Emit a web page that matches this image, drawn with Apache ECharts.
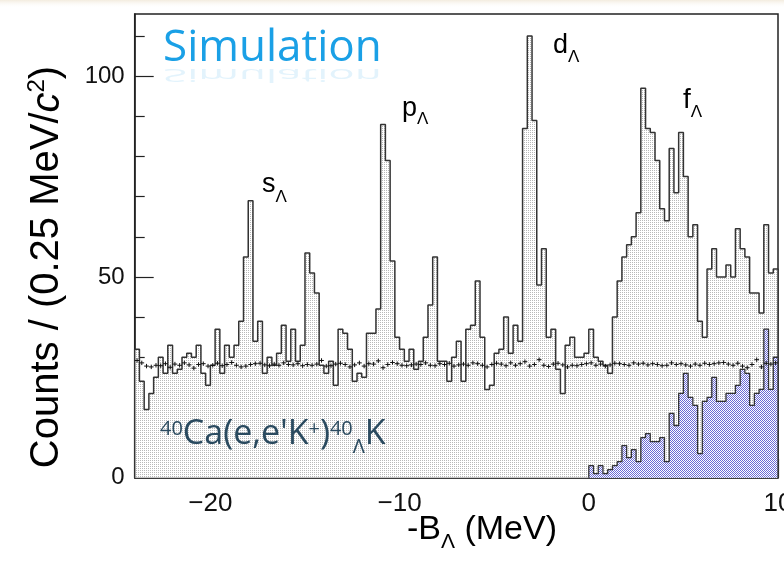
<!DOCTYPE html>
<html>
<head>
<meta charset="utf-8">
<script src="https://cdn.jsdelivr.net/npm/echarts@6/dist/echarts.min.js"></script>
<style>
  html, body { margin: 0; padding: 0; background: #fff; }
  #chart { width: 784px; height: 566px; }
</style>
</head>
<body>
<div id="chart"></div>
<script>
// histogram binning: -24 .. 10 MeV, 0.25 MeV per bin (136 bins)
var binLo = -24;
var binW = 0.25;

// simulated spectrum, counts per bin
var counts = [
  32, 24, 17, 21, 25, 30, 26, 33, 26, 27,
  30, 31, 30, 33, 26, 23, 28, 37, 26, 33,
  30, 33, 39, 55, 69, 34, 39, 26, 30, 28,
  31, 38, 29, 37, 29, 33, 56, 51, 46, 28,
  26, 29, 23, 37, 36, 32, 24, 26, 25, 36,
  36, 42, 88, 79, 54, 35, 32, 29, 32, 27,
  29, 35, 43, 55, 29, 29, 24, 30, 34, 24,
  37, 38, 49, 35, 22, 23, 31, 32, 40, 31,
  38, 34, 87, 110, 89, 48, 57, 35, 37, 27,
  21, 33, 35, 30, 30, 31, 37, 30, 29, 28,
  26, 40, 49, 55, 58, 60, 66, 97, 87, 86,
  79, 67, 64, 82, 71, 86, 75, 60, 63, 39,
  35, 52, 57, 50, 50, 53, 50, 62, 57, 55,
  46, 46, 41, 63, 51, 52
];

// unbound (continuum) part, starts at bin 96 (0 MeV)
var contFirst = 96;
var continuum = [
  3, 1, 3, 1, 2, 3, 4, 8, 5, 7,
  4, 10, 11, 9, 9, 10, 4, 16, 13, 21,
  26, 20, 18, 6, 19, 20, 25, 19, 19, 21,
  21, 23, 27, 26, 18, 21, 22, 37, 22, 30
];

// accidental background estimate (crosses)
var accidental = [
  29.2, 28.6, 27.8, 27.6, 28.0, 27.9, 28.4, 27.5, 28.3, 28.0,
  28.6, 28.1, 27.3, 28.2, 28.4, 27.8, 28.0, 28.5, 27.9, 28.2,
  28.7, 28.0, 27.6, 27.8, 28.2, 28.4, 28.5, 28.1, 27.9, 28.3,
  28.0, 28.6, 28.2, 28.1, 28.4, 27.9, 28.2, 28.0, 28.3, 29.2,
  27.8, 27.9, 28.3, 28.5, 28.2, 27.6, 28.1, 28.6, 27.8, 28.4,
  28.3, 29.1, 27.4, 28.2, 28.7, 28.4, 28.0, 27.9, 28.1, 28.3,
  28.2, 28.6, 28.0, 27.9, 28.4, 28.2, 28.5, 27.8, 28.1, 28.3,
  28.0, 28.6, 28.4, 28.0, 27.6, 28.2, 28.5, 28.3, 27.9, 28.6,
  28.0, 28.4, 28.9, 27.8, 28.2, 29.4, 28.0, 27.7, 28.3, 28.5,
  28.1, 27.6, 28.0, 27.9, 28.2, 28.4, 28.6, 28.0, 28.3, 27.8,
  28.1, 28.5, 28.4, 28.2, 28.0, 28.6, 28.3, 28.5, 28.1, 28.4,
  28.2, 27.9, 28.0, 28.6, 28.2, 28.4, 28.1, 27.8, 28.3, 28.0,
  28.5, 28.2, 28.4, 28.6, 28.7, 28.3, 28.0, 28.5, 27.8, 27.4,
  28.2, 29.4, 27.6, 28.5, 28.3, 28.6
];
var accErr = 0.55;

var xMajor = [-20, -10, 0, 10];
var xMinor = [-22, -18, -16, -14, -12, -8, -6, -4, -2, 2, 4, 6, 8];
var yMajor = [0, 50, 100];
var yMinor = [10, 20, 30, 40, 60, 70, 80, 90, 110];

// step outline points for a histogram starting at bin "first"
function stepData(vals, first) {
  var d = [[binLo + first * binW, 0]];
  for (var i = 0; i < vals.length; i++) {
    d.push([binLo + (first + i) * binW, vals[i]]);
  }
  var end = binLo + (first + vals.length) * binW;
  d.push([end, vals[vals.length - 1]]);
  d.push([end, 0]);
  return d;
}

function dotPattern(color, checker) {
  var c = document.createElement('canvas');
  c.width = 2; c.height = 2;
  var g = c.getContext('2d');
  g.fillStyle = '#fff';
  g.fillRect(0, 0, 2, 2);
  g.fillStyle = color;
  g.fillRect(0, 0, 1, 1);
  if (checker) g.fillRect(1, 1, 1, 1);
  return { image: c, repeat: 'repeat' };
}

// lay out a run of text pieces on one baseline (sub/superscripts)
var mctx = document.createElement('canvas').getContext('2d');
function textRun(x, base, family, k, color, pieces, center) {
  var els = [];
  var widths = pieces.map(function (p) {
    mctx.font = (p.italic ? 'italic ' : '') + p.size + "px '" + family + "'";
    return mctx.measureText(p.t).width;
  });
  var total = widths.reduce(function (a, b) { return a + b; }, 0);
  var cx = center ? x - total / 2 : x;
  pieces.forEach(function (p, i) {
    els.push({
      type: 'text',
      x: cx,
      y: base + (p.dy || 0) - k * p.size,
      z: 100,
      style: {
        text: p.t,
        fontSize: p.size,
        fontFamily: family,
        fontStyle: p.italic ? 'italic' : 'normal',
        fill: color,
        align: 'left',
        verticalAlign: 'middle'
      }
    });
    cx += widths[i];
  });
  return els;
}

var SANS = 'Liberation Sans', KS = 0.3465;
var OPEN = 'Open Sans', KO = 0.388;

var graphics = [];
// cream edge of the slide
graphics.push({
  type: 'rect', shape: { x: 0, y: 0, width: 784, height: 8 },
  style: { fill: new echarts.graphic.LinearGradient(0, 0, 0, 1, [
    { offset: 0, color: '#f3ecdf' }, { offset: 1, color: 'rgba(255,255,255,0)' }]) },
  silent: true, z: -10
});

// peak names
graphics = graphics.concat(
  textRun(262, 194, SANS, KS, '#000', [{ t: 's', size: 27 }, { t: 'Λ', size: 17, dy: 9 }]),
  textRun(402, 118, SANS, KS, '#000', [{ t: 'p', size: 27 }, { t: 'Λ', size: 17, dy: 7 }]),
  textRun(553, 55, SANS, KS, '#000', [{ t: 'd', size: 27 }, { t: 'Λ', size: 17, dy: 8 }]),
  textRun(683, 110, SANS, KS, '#000', [{ t: 'f', size: 28 }, { t: 'Λ', size: 17, dy: 8 }])
);

// reaction label
graphics = graphics.concat(textRun(160, 448, OPEN, KO, '#2a4a5f', [
  { t: '40', size: 20, dy: -11 },
  { t: "Ca(e,e'K", size: 34 },
  { t: '+', size: 20, dy: -11 },
  { t: ')', size: 34 },
  { t: '40', size: 20, dy: -11 },
  { t: 'Λ', size: 20, dy: 7 },
  { t: 'K', size: 34 }
]));

// "Simulation" with its faint reflection
graphics.push({
  type: 'text', x: 163, y: 66 - KO * 44, z: 100,
  style: { text: 'Simulation', fontSize: 44, fontFamily: OPEN, fill: '#1aa0e6', align: 'left', verticalAlign: 'middle' }
});
graphics.push({
  type: 'group', x: 163, y: 67, scaleY: -0.4, z: 100,
  children: [{
    type: 'text', x: 0, y: -KO * 44, z: 100,
    style: { text: 'Simulation', fontSize: 44, fontFamily: OPEN, fill: 'rgba(26,160,230,0.12)', align: 'left', verticalAlign: 'middle' }
  }]
});

// axis titles
graphics = graphics.concat(textRun(482, 541, SANS, KS, '#000', [
  { t: '-B', size: 34 }, { t: 'Λ', size: 21, dy: 8 }, { t: ' (MeV)', size: 34 }
], true));
graphics.push({
  type: 'group', x: 47, y: 267, rotation: Math.PI / 2, z: 100,
  children: textRun(0, 0.358 * 40, SANS, KS, '#000', [
    { t: 'Counts / (0.25 MeV/', size: 40 },
    { t: 'c', size: 40, italic: true },
    { t: '2', size: 24, dy: -16 },
    { t: ')', size: 40 }
  ], true)
});

var chart = echarts.init(document.getElementById('chart'), null, { renderer: 'canvas' });

var tickStyle = { color: '#222', width: 1.2 };
var option = {
  animation: false,
  backgroundColor: '#fff',
  grid: {
    left: 134.7, right: 6, top: 14, bottom: 88.3,
    show: true, borderColor: '#222', borderWidth: 1.5,
    containLabel: false, outerBoundsMode: 'none'
  },
  xAxis: [{
    type: 'value', min: -24, max: 10,
    axisLine: { show: true, onZero: false, lineStyle: { color: '#222', width: 1.5 } },
    axisTick: { show: true, inside: true, length: 19, customValues: xMajor, lineStyle: tickStyle },
    axisLabel: {
      customValues: xMajor, margin: 13, fontSize: 26, fontFamily: SANS, color: '#111',
      formatter: function (v) { return String(v).replace('-', '\u2212'); }
    },
    splitLine: { show: false }
  }, {
    type: 'value', min: -24, max: 10, position: 'bottom',
    axisLine: { show: false },
    axisTick: { show: true, inside: true, length: 10, customValues: xMinor, lineStyle: tickStyle },
    axisLabel: { show: false },
    splitLine: { show: false }
  }],
  yAxis: [{
    type: 'value', min: 0, max: 115.5,
    axisLine: { show: true, onZero: false, lineStyle: { color: '#222', width: 1.5 } },
    axisTick: { show: true, inside: true, length: 19, customValues: yMajor, lineStyle: tickStyle },
    axisLabel: { customValues: yMajor, margin: 10, fontSize: 24, fontFamily: SANS, color: '#111' },
    splitLine: { show: false }
  }, {
    type: 'value', min: 0, max: 115.5, position: 'left',
    axisLine: { show: false, onZero: false },
    axisTick: { show: true, inside: true, length: 10, customValues: yMinor, lineStyle: tickStyle },
    axisLabel: { show: false },
    splitLine: { show: false }
  }],
  graphic: graphics,
  series: [{
    name: 'spectrum',
    type: 'line',
    step: 'end',
    symbol: 'none',
    data: stepData(counts, 0),
    lineStyle: { color: '#333', width: 1.5 },
    areaStyle: { color: dotPattern('#b8b8b8', false), opacity: 1 },
    z: 2
  }, {
    name: 'continuum',
    type: 'line',
    step: 'end',
    symbol: 'none',
    data: stepData(continuum, contFirst),
    lineStyle: { color: '#333', width: 1.3 },
    areaStyle: { color: dotPattern('#6a6ad6', true), opacity: 1 },
    z: 3
  }, {
    name: 'accidental',
    type: 'custom',
    encode: { x: 0, y: 1 },
    data: accidental.map(function (v, i) { return [binLo + (i + 0.5) * binW, v]; }),
    renderItem: function (params, api) {
      var x = api.value(0), y = api.value(1);
      var a = api.coord([x - binW / 2, y]), b = api.coord([x + binW / 2, y]);
      var c = api.coord([x, y + accErr]), d = api.coord([x, y - accErr]);
      var st = { stroke: '#111', lineWidth: 1 };
      return {
        type: 'group',
        children: [
          { type: 'line', shape: { x1: a[0], y1: a[1], x2: b[0], y2: b[1] }, style: st },
          { type: 'line', shape: { x1: c[0], y1: c[1], x2: d[0], y2: d[1] }, style: st }
        ]
      };
    },
    z: 5
  }]
};
chart.setOption(option);
</script>
</body>
</html>
